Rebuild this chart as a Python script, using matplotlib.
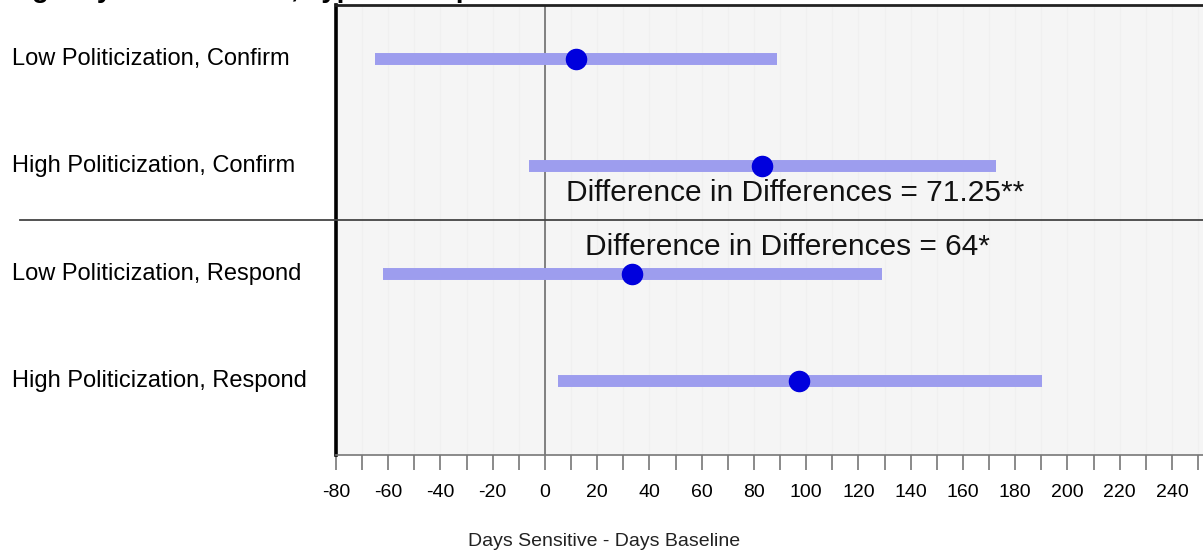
import matplotlib
matplotlib.use("Agg")
import matplotlib.pyplot as plt
from matplotlib.lines import Line2D
from matplotlib.transforms import blended_transform_factory
from matplotlib.ticker import MultipleLocator, FuncFormatter

plt.rcParams['font.family'] = ['Liberation Sans', 'DejaVu Sans']
plt.rcParams['axes.unicode_minus'] = False

# Estimates and 95% intervals (days sensitive - days baseline)
labels = ["Low Politicization, Confirm", "High Politicization, Confirm",
          "Low Politicization, Respond", "High Politicization, Respond"]
estimates = [11.9, 83.15, 33.2, 97.2]
lower = [-65.1, -6.1, -62.0, 5.0]
upper = [88.8, 172.6, 129.0, 190.2]
diff_labels = ["Difference in Differences = 71.25**",
               "Difference in Differences = 64*"]
title = "Agency Politicization, Type of Request"

rows = [4, 3, 2, 1]

fig = plt.figure(figsize=(12.03, 5.56), dpi=100)
ax = fig.add_axes([336 / 1203, 1 - 455 / 556, 1 - 336 / 1203, (455 - 5) / 556])
ax.set_facecolor("#f5f5f5")

# intervals and point estimates
for y, lo, hi, est in zip(rows, lower, upper, estimates):
    ax.plot([lo, hi], [y, y], color="#9d9dee", linewidth=8.6, solid_capstyle="butt", zorder=2)
    ax.plot(est, y, "o", color="#0000dd", markersize=14.5, zorder=3)

ax.axvline(0, color="#777777", linewidth=1.3, zorder=1)

ax.text(8.0, 2.752, diff_labels[0], fontsize=21.5, va="center", ha="left", color="#111111")
ax.text(15.3, 2.248, diff_labels[1], fontsize=21.5, va="center", ha="left", color="#111111")

ax.set_xlim(-80, 251.9)
ax.set_ylim(0.311, 4.503)
ax.xaxis.set_major_locator(MultipleLocator(20))
ax.xaxis.set_minor_locator(MultipleLocator(10))
ax.xaxis.set_major_formatter(FuncFormatter(lambda v, p: "%d" % v))
ax.grid(True, axis="x", which="both", color="#f0f0f0", linewidth=0.8, zorder=0)
ax.set_axisbelow(True)
ax.tick_params(axis="x", which="both", length=11, width=1.2, color="#777777",
               labelsize=14, pad=10)
ax.set_yticks([])

ax.spines["right"].set_visible(False)
ax.spines["left"].set_linewidth(2.6)
ax.spines["left"].set_color("black")
ax.spines["top"].set_linewidth(2.0)
ax.spines["top"].set_color("#222222")
ax.spines["bottom"].set_linewidth(1.2)
ax.spines["bottom"].set_color("#777777")

# x axis title, centred on the figure
fig.text(604 / 1203, 1 - 542 / 556, "Days Sensitive - Days Baseline", fontsize=14,
         ha="center", va="center", color="#222222")

# row labels on the left
trans = blended_transform_factory(fig.transFigure, ax.transData)
for y, lab in zip(rows, labels):
    fig.text(12 / 1203, y, lab, transform=trans, fontsize=17, va="center", ha="left")

# separator between confirm and respond groups
fig.add_artist(Line2D([20 / 1203, 1.0], [2.5, 2.5], transform=trans,
                      color="#444444", linewidth=1.3, clip_on=False))

# title, clipped at the top edge
fig.text(12 / 1203, 1 + 3 / 556, title, fontsize=20, fontweight="bold",
         va="baseline", ha="left")

fig.savefig("out.png", dpi=100)
